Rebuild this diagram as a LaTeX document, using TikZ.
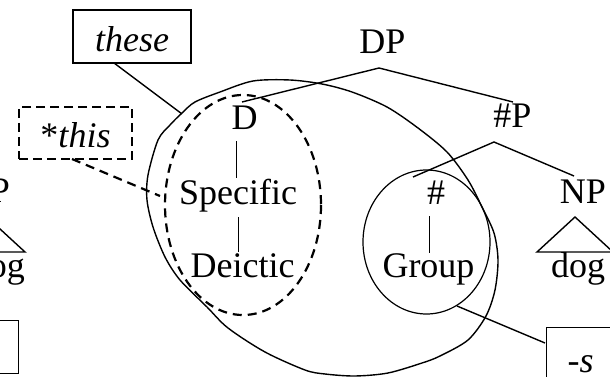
\documentclass[tikz,border=0pt]{standalone}
\usepackage{fontspec}
\setmainfont{Liberation Serif}
\begin{document}
\begin{tikzpicture}[x=1pt,y=-1pt,
  every node/.style={font=\fontsize{36}{43}\selectfont},
  lbl/.style={inner sep=0pt, anchor=base},
  branch/.style={line width=1.4pt},
  tag/.style={draw, line width=1.1pt, inner xsep=0pt},
  dashtag/.style={draw, line width=2.6pt, dash pattern=on 9pt off 5pt, inner xsep=0pt},
  dashline/.style={line width=2.2pt, dash pattern=on 9pt off 6pt},
  ring/.style={line width=1.4pt}]
\useasboundingbox (0,0) rectangle (610,377);

% --- feature bundles ---
\draw[ring] plot[smooth cycle, tension=0.5] coordinates {
  (253,81) (290,80) (322,84) (352,92) (387,107) (418,128) (447,152)
  (468,180) (482,207) (494,233) (498,260) (495,290) (486,316) (468,340)
  (440,356) (422,363) (388,373) (355,376) (325,374) (305,370) (265,352)
  (228,328) (207,307) (180,280) (165,257) (153,227) (147,200) (148,175)
  (158,140) (170,125) (182,113) (195,102) (220,92)};
\draw[dashline] (243,205) ellipse [x radius=78, y radius=110];
\draw[line width=1.2pt] (426.5,242) ellipse [x radius=63.5, y radius=72];

% --- labels of the tree ---
\node[lbl] (DP) at (382.5,54) {DP};
\node[lbl] (D) at (244.5,130) {D};
\node[lbl] (numP) at (512.5,128) {\#P};
\node[lbl] (spec) at (238,204) {Specific};
\node[lbl] (deic) at (242.5,277) {Deictic};
\node[lbl] (num) at (436,204) {\#};
\node[lbl] (grp) at (428.5,277) {Group};
\node[lbl] (NPr) at (583,203) {NP};
\node[lbl] (dogr) at (578,277) {dog};
\node[lbl, anchor=base east] (NPl) at (10,202) {NP};
\node[lbl, anchor=base east] (dogl) at (25,277) {dog};

% --- exponent boxes ---
\node[tag, minimum width=118pt, text height=31pt, text depth=0pt, inner ysep=11pt]
  (these) at (132,36.5) {\textit{these}};
\node[dashtag, minimum width=113pt, text height=28pt, text depth=0pt, inner ysep=12pt]
  (this) at (75.5,133) {*\textit{this}};
\node[tag, anchor=north west, text width=80pt, align=left, inner xsep=21pt,
  text height=30pt, text depth=10pt, inner ysep=15pt] (suff) at (546,327) {-\textit{s}};
\node[tag, anchor=north east, minimum width=90pt, minimum height=53pt] (leftbox) at (19,320) {};

% --- branch end points ---
\coordinate (dpfoot) at (379,68);
\coordinate (dtop) at (242,102);
\coordinate (nptop) at (513,102);
\coordinate (npfoot) at (494,142);
\coordinate (numtop) at (413,177);
\coordinate (nprtop) at (574,176);
\coordinate (dfoot) at (236,141);
\coordinate (spectop) at (236,178);
\coordinate (specfoot) at (238,217);
\coordinate (deictop) at (238,252);
\coordinate (numfoot) at (429,216);
\coordinate (grptop) at (429,253);
\coordinate (trRa) at (575,217);
\coordinate (trRl) at (537,252);
\coordinate (trRr) at (613,252);
\coordinate (trLa) at (-13,217);
\coordinate (trLl) at (-51,252);
\coordinate (trLr) at (25,252);
\coordinate (theseout) at (114,63);
\coordinate (bigring) at (182,114);
\coordinate (thisout) at (72,159);
\coordinate (specring) at (160,196);
\coordinate (grpring) at (457,306);
\coordinate (suffin) at (545,343);

% --- tree branches ---
\draw[branch] (dtop) -- (dpfoot) -- (nptop);
\draw[branch] (numtop) -- (npfoot) -- (nprtop);
\draw[line width=1pt] (dfoot) -- (spectop);
\draw[line width=1pt] (specfoot) -- (deictop);
\draw[line width=1pt] (numfoot) -- (grptop);
\draw[branch] (trRl) -- (trRa) -- (trRr) -- cycle;
\draw[branch] (trLl) -- (trLa) -- (trLr) -- cycle;

% --- pointers from exponents ---
\draw[branch] (theseout) -- (bigring);
\draw[dashline] (thisout) -- (specring);
\draw[branch] (grpring) -- (suffin);
\end{tikzpicture}
\end{document}
